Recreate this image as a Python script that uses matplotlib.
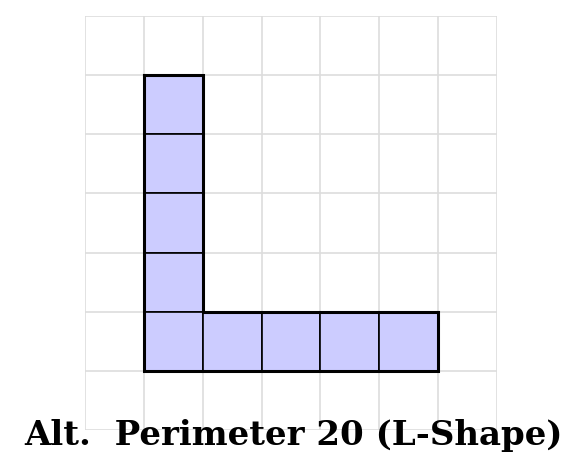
import matplotlib
matplotlib.use("Agg")
import matplotlib.pyplot as plt
from matplotlib.patches import Rectangle

grid_size = 7
# lower-left corners of the unit squares of the L shape
cells_x = [1, 1, 1, 1, 1, 2, 3, 4, 5]
cells_y = [5, 4, 3, 2, 1, 1, 1, 1, 1]
outline_x = [1, 2, 2, 6, 6, 1, 1]
outline_y = [6, 6, 2, 2, 1, 1, 6]
title = "Alt.  Perimeter 20 (L-Shape)"

fig = plt.figure(figsize=(5.87, 4.73), dpi=100)
ax = fig.add_axes([85/587, 43/473, 412/587, 414/473])
ax.set_xlim(0, grid_size)
ax.set_ylim(0, grid_size)
for i in range(grid_size + 1):
    ax.axvline(i, color="#dddddd", lw=1.2, zorder=0)
    ax.axhline(i, color="#dddddd", lw=1.2, zorder=0)
for x, y in zip(cells_x, cells_y):
    ax.add_patch(Rectangle((x, y), 1, 1, facecolor="#ccccff", edgecolor="black", lw=1.2, zorder=2))
ax.plot(outline_x, outline_y, color="black", lw=2.2, zorder=3, solid_joinstyle="miter")
ax.axis("off")
fig.text(0.5, 38/473, title, ha="center", va="center", fontsize=24.5,
         fontweight="bold", family="DejaVu Serif", zorder=5)
fig.savefig("out.png", dpi=100)
